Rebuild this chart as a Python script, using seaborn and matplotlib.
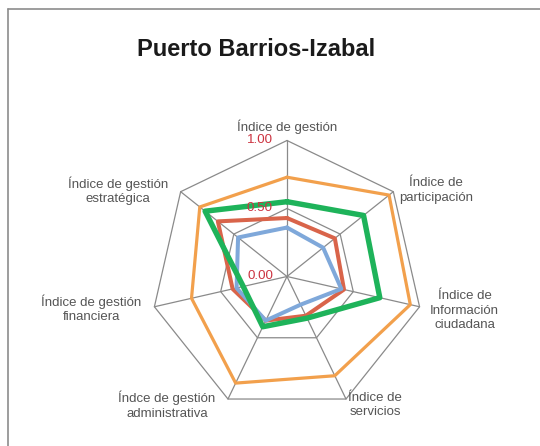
import numpy as np
import pandas as pd
import matplotlib
matplotlib.use("Agg")
import matplotlib.pyplot as plt
from matplotlib.lines import Line2D
import seaborn as sns

# datos (ejes en sentido horario desde arriba)
categorias = [
    "Índice de gestión",
    "Índice de\nparticipación",
    "Índice de\nInformación\nciudadana",
    "Índice de\nservicios",
    "Índce de gestión\nadministrativa",
    "Índice de gestión\nfinanciera",
    "Índice de gestión\nestratégica",
]
serie_naranja = [0.73, 0.96, 0.93, 0.81, 0.87, 0.72, 0.82]
serie_roja = [0.43, 0.45, 0.43, 0.32, 0.36, 0.41, 0.65]
serie_azul = [0.36, 0.34, 0.41, 0.23, 0.36, 0.38, 0.46]
serie_verde = [0.55, 0.72, 0.70, 0.34, 0.41, 0.33, 0.77]
valores_radio = [0.0, 0.5, 1.0]
etiquetas_radio = ["0.00", "0.50", "1.00"]

sns.set_theme(style="white")
plt.rcParams["font.family"] = ["Liberation Sans", "DejaVu Sans"]

fig = plt.figure(figsize=(5.4, 4.46), dpi=100)
ax = fig.add_axes([0.2796, 0.0751, 0.5037, 0.6099], projection="polar")
ax.set_theta_offset(np.pi / 2)
ax.set_theta_direction(-1)
ax.set_facecolor("none")

n = len(categorias)
angulos = np.linspace(0, 2 * np.pi, n, endpoint=False)
cerrado = np.append(angulos, angulos[0])

# rejilla poligonal y radios
gris = "#8a8a8a"
for r in valores_radio[1:]:
    ax.plot(cerrado, [r] * (n + 1), color=gris, lw=0.9, zorder=1, clip_on=False)
for a in angulos:
    ax.plot([a, a], [0, 1], color=gris, lw=0.9, zorder=1, clip_on=False)

series = [
    (serie_naranja, "#F2A04C", 2.3),
    (serie_roja, "#D9644A", 2.9),
    (serie_azul, "#7FA8DA", 2.9),
    (serie_verde, "#1EB35A", 3.9),
]
for valores, color, grosor in series:
    df = pd.DataFrame({"angulo": cerrado, "valor": valores + valores[:1]})
    sns.lineplot(data=df, x="angulo", y="valor", sort=False, estimator=None,
                 color=color, lw=grosor, ax=ax, zorder=3, clip_on=False)

ax.set_ylim(0, 1)
ax.set_xticks([])
ax.set_yticks([])
ax.set_xlabel("")
ax.set_ylabel("")
ax.grid(False)
ax.spines["polar"].set_visible(False)

# etiquetas de categorias
desplazamientos = [(0, 14), (43, 1), (45, -4), (29, -6), (-61, -6), (-63, -2), (-63, 1)]
for a, texto, (dx, dy) in zip(angulos, categorias, desplazamientos):
    ax.annotate(texto, xy=(a, 1.0), xytext=(dx, dy), textcoords="offset pixels",
                ha="center", va="center", fontsize=9.5, color="#555555",
                linespacing=1.3, annotation_clip=False)

# etiquetas del eje radial
for r, lbl in zip(valores_radio, etiquetas_radio):
    ax.annotate(lbl, xy=(0, r), xytext=(-14, 0), textcoords="offset pixels",
                ha="right", va="center", fontsize=9.6, color="#CC3340",
                annotation_clip=False, zorder=4)

fig.text(0.475, 0.890, "Puerto Barrios-Izabal", fontsize=17, fontweight="bold",
         ha="center", va="center", color="#1a1a1a")

# marco del grafico
fig.add_artist(Line2D([8 / 540, 1], [1 - 9 / 446] * 2, transform=fig.transFigure,
                      color="#8c8c8c", lw=1.2))
fig.add_artist(Line2D([8 / 540] * 2, [0, 1 - 9 / 446], transform=fig.transFigure,
                      color="#8c8c8c", lw=1.2))

fig.savefig("out.png", dpi=100)
